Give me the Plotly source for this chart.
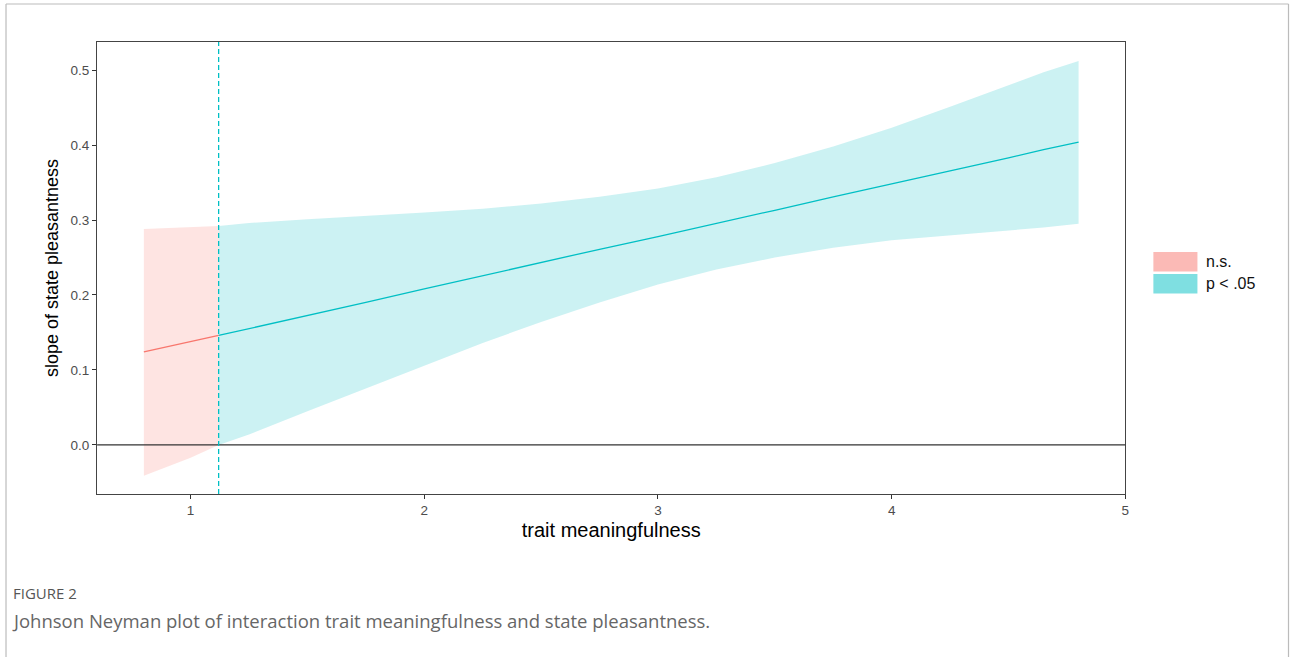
import plotly.graph_objects as go

# ---- data ----
x_points = [0.8, 1.0, 1.12, 1.25, 1.5, 1.75, 2.0, 2.25, 2.5, 2.75, 3.0, 3.25, 3.5, 3.75, 4.0, 4.25, 4.5, 4.65, 4.8]
slope = [0.124, 0.138, 0.146, 0.155, 0.173, 0.190, 0.208, 0.226, 0.243, 0.261, 0.278, 0.296, 0.313, 0.331, 0.348, 0.366, 0.383, 0.394, 0.404]
lower = [-0.041, -0.017, 0.000, 0.014, 0.045, 0.076, 0.106, 0.136, 0.164, 0.190, 0.214, 0.234, 0.250, 0.263, 0.273, 0.280, 0.286, 0.290, 0.295]
upper = [0.288, 0.290, 0.292, 0.296, 0.301, 0.305, 0.310, 0.315, 0.322, 0.331, 0.342, 0.357, 0.376, 0.398, 0.423, 0.451, 0.480, 0.497, 0.512]
jn_point = 1.12
x_ticks = [1, 2, 3, 4, 5]
y_ticks = [0.0, 0.1, 0.2, 0.3, 0.4, 0.5]
legend_labels = ["n.s.", "p < .05"]

RED = "#F8766D"
TEAL = "#00BFC4"
W, H = 1293, 657
SX = 1.0043  # small horizontal correction observed in rendering

def px_x(p):
    return min(p * SX, W - 0.5) / W

def px_y(p):
    return 1 - p / H

ns_idx = [i for i, x in enumerate(x_points) if x <= jn_point]
sig_idx = [i for i, x in enumerate(x_points) if x >= jn_point]

fig = go.Figure()

def band(idx, color):
    xs = [x_points[i] for i in idx] + [x_points[i] for i in reversed(idx)]
    ys = [upper[i] for i in idx] + [lower[i] for i in reversed(idx)]
    fig.add_trace(go.Scatter(x=xs, y=ys, fill="toself", fillcolor=color,
                             mode="lines", line=dict(width=0), showlegend=False,
                             hoverinfo="skip"))

band(ns_idx, "rgba(248,118,109,0.2)")
band(sig_idx, "rgba(0,191,196,0.2)")

fig.add_trace(go.Scatter(x=[x_points[i] for i in ns_idx], y=[slope[i] for i in ns_idx],
                         mode="lines", line=dict(color=RED, width=1.3), showlegend=False))
fig.add_trace(go.Scatter(x=[x_points[i] for i in sig_idx], y=[slope[i] for i in sig_idx],
                         mode="lines", line=dict(color=TEAL, width=1.3), showlegend=False))

shapes = []
# zero line
shapes.append(dict(type="line", xref="x domain", yref="y", x0=0, x1=1, y0=0, y1=0,
                   line=dict(color="#333333", width=1.3)))
# JN dashed line
shapes.append(dict(type="line", xref="x", yref="y domain", x0=jn_point, x1=jn_point, y0=0, y1=1,
                   line=dict(color=TEAL, width=1.3, dash="5px,3px")))
# outer frame
shapes.append(dict(type="line", xref="paper", yref="paper", x0=px_x(6), x1=px_x(1292), y0=px_y(4), y1=px_y(4),
                   line=dict(color="#BBBBBB", width=1.2)))
shapes.append(dict(type="line", xref="paper", yref="paper", x0=px_x(6), x1=px_x(6), y0=px_y(4), y1=px_y(660),
                   line=dict(color="#BBBBBB", width=1.2)))
shapes.append(dict(type="line", xref="paper", yref="paper", x0=px_x(1292), x1=px_x(1292), y0=px_y(4), y1=px_y(660),
                   line=dict(color="#BBBBBB", width=1.2)))
# legend keys
key_cols = ["rgba(248,118,109,0.5)", "rgba(0,191,196,0.5)"]
key_tops = [252, 274]
annotations = []
for lab, col, top in zip(legend_labels, key_cols, key_tops):
    shapes.append(dict(type="rect", xref="paper", yref="paper", x0=px_x(1152), x1=px_x(1196),
                       y0=px_y(top + 19.5), y1=px_y(top), fillcolor=col, line=dict(width=0)))
    annotations.append(dict(text=lab, xref="paper", yref="paper", x=px_x(1203), y=px_y(top + 9.5),
                            xanchor="left", yanchor="middle", showarrow=False,
                            font=dict(family="Liberation Sans", size=16, color="#111111")))

annotations.append(dict(text="FIGURE 2", xref="paper", yref="paper", x=px_x(11), y=px_y(593),
                        xanchor="left", yanchor="middle", showarrow=False,
                        font=dict(family="Open Sans", size=15, color="#555555")))
annotations.append(dict(text="Johnson Neyman plot of interaction trait meaningfulness and state pleasantness.",
                        xref="paper", yref="paper", x=px_x(10), y=px_y(620),
                        xanchor="left", yanchor="middle", showarrow=False,
                        font=dict(family="Open Sans", size=18.5, color="#666666")))

axis_common = dict(showline=True, mirror=True, linecolor="#444444", linewidth=1.2,
                   ticks="outside", ticklen=4, tickcolor="#333333", tickwidth=1.1,
                   showgrid=False, zeroline=False,
                   tickfont=dict(family="Liberation Sans", size=13.5, color="#4D4D4D"))

fig.update_layout(
    width=W, height=H,
    margin=dict(l=0, r=0, t=0, b=0),
    paper_bgcolor="white", plot_bgcolor="white",
    showlegend=False,
    shapes=shapes, annotations=annotations,
    xaxis=dict(domain=[px_x(97), px_x(1124)], range=[0.6, 5.0], tickvals=x_ticks,
               title=dict(text="trait meaningfulness", standoff=5,
                          font=dict(family="Liberation Sans", size=20, color="#000000")),
               **axis_common),
    yaxis=dict(domain=[px_y(494), px_y(42)], range=[-0.0655, 0.5375], tickvals=y_ticks,
               tickformat=".1f",
               title=dict(text="slope of state pleasantness", standoff=7,
                          font=dict(family="Liberation Sans", size=18, color="#000000")),
               **axis_common),
)

fig.write_html("out.html",
               config={"displayModeBar": False},
               post_script="document.body.style.margin='0';document.body.style.overflow='hidden';")
